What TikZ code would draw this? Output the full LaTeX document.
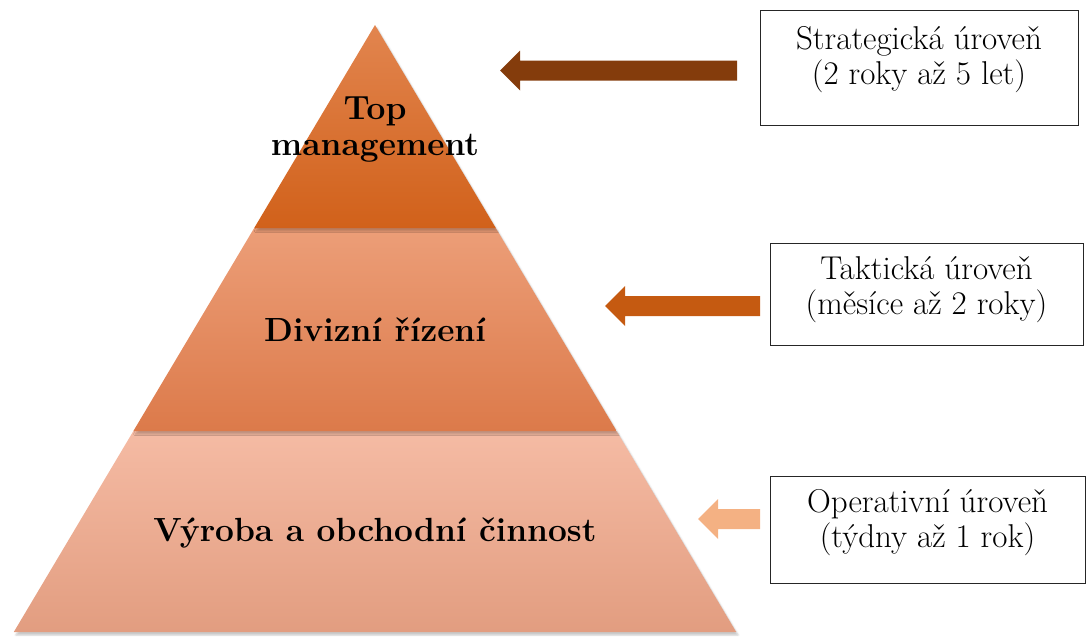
\documentclass[tikz,border=0pt]{standalone}
\usepackage{tikz}
\usetikzlibrary{calc,positioning,shadows.blur}
\definecolor{topHi}{HTML}{E2854F}
\definecolor{topLo}{HTML}{D1611A}
\definecolor{midHi}{HTML}{EC9E78}
\definecolor{midLo}{HTML}{DC7A4A}
\definecolor{botHi}{HTML}{F5BBA4}
\definecolor{botLo}{HTML}{E29D80}
\definecolor{arrDark}{HTML}{843C0C}
\definecolor{arrMid}{HTML}{C55A11}
\definecolor{arrLight}{HTML}{F4B183}
\tikzset{
  tier/.style 2 args={top color=#1, bottom color=#2, draw=none,
    blur shadow={shadow xshift=2pt, shadow yshift=-3pt, shadow opacity=22}},
  tiertext/.style={font=\bfseries\fontsize{33.5}{36}\selectfont, align=center},
  lvlbox/.style={draw=black!85, line width=1pt, fill=white},
  lvltext/.style={font=\fontsize{33}{35}\selectfont, align=center}}

\begin{document}
\begin{tikzpicture}[x=1pt, y=-1pt]
  \useasboundingbox (0,0) rectangle (1088,637);
  % pyramid, bottom tier first
  \path[tier={botHi}{botLo}] (133.4,431) -- (616.6,431) -- (736.2,632) -- (13.8,632) -- cycle;
  \path[tier={midHi}{midLo}] (254.2,228) -- (495.8,228) -- (616.6,431) -- (133.4,431) -- cycle;
  \path[tier={topHi}{topLo}] (375,25) -- (495.8,228) -- (254.2,228) -- cycle;
  \node[tiertext] (top) at (375,130) {Top\\management};
  \node[tiertext] (div) at (375,330) {Divizní řízení};
  \node[tiertext] (ops) at (375,533) {Výroba a obchodní činnost};
  % level boxes
  \node[lvlbox, minimum width=318pt, minimum height=115pt] (strat) at (919,67.5) {};
  \node[lvlbox, minimum width=313pt, minimum height=102pt] (takt) at (926.5,294) {};
  \node[lvlbox, minimum width=315pt, minimum height=107pt] (oper) at (927.5,529.5) {};
  \node[lvltext] (stratText) at ($(strat)+(0,-8)$) {Strategická úroveň\\(2 roky až 5 let)};
  \node[lvltext] (taktText) at ($(takt)+(0,-4)$) {Taktická úroveň\\(měsíce až 2 roky)};
  \node[lvltext] (operText) at ($(oper)+(0,-7)$) {Operativní úroveň\\(týdny až 1 rok)};
  % block arrows
  \foreach \tipx/\tailx/\ay/\col in {500/737/70.5/arrDark, 605/760/306/arrMid, 698/760/519/arrLight}
    \fill[\col] (\tipx,\ay) -- (\tipx+20,\ay-20) -- (\tipx+20,\ay-10) -- (\tailx,\ay-10)
      -- (\tailx,\ay+10) -- (\tipx+20,\ay+10) -- (\tipx+20,\ay+20) -- cycle;
\end{tikzpicture}
\end{document}
